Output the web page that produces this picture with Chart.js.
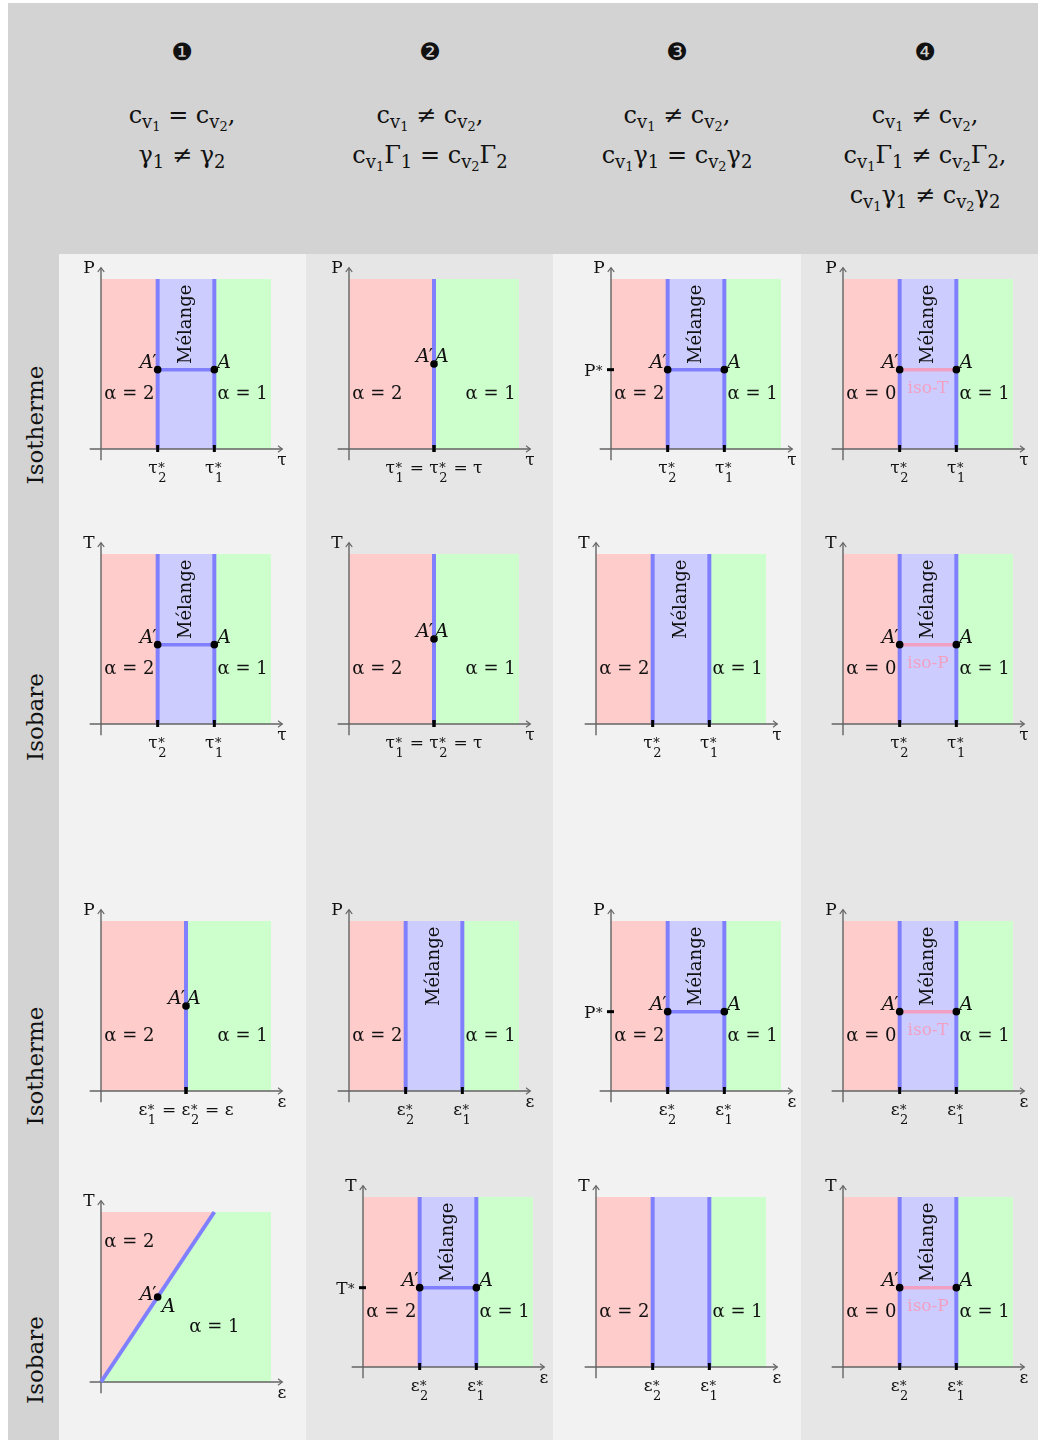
<!DOCTYPE html>
<html><head><meta charset="utf-8">
<script src="https://cdn.jsdelivr.net/npm/chart.js"></script>
<style>
html,body{margin:0;padding:0;background:#fff;}
body{width:1038px;height:1440px;position:relative;overflow:hidden;font-family:"DejaVu Serif",serif;color:#111;}
.bg{position:absolute;}
.num{position:absolute;font-family:"DejaVu Sans",sans-serif;font-size:24px;transform:translate(-50%,-50%);line-height:1;}
.cond{position:absolute;transform:translateX(-50%);white-space:nowrap;font-size:24px;line-height:40px;text-align:center;}
.rowlab{position:absolute;font-size:23px;transform:translate(-50%,-50%) rotate(-90deg);white-space:nowrap;line-height:1;}
sub{font-size:0.75em;vertical-align:-0.3em;line-height:0;}
sub sub{font-size:0.72em;vertical-align:-0.22em;}
canvas{position:absolute;}
</style></head>
<body>
<script>
// ---------- DATA ----------
const columnNumbers = ['❶','❷','❸','❹'];
const columnConditions = [
  ['c{v1} = c{v2},', 'γ1 ≠ γ2'],
  ['c{v1} ≠ c{v2},', 'c{v1}Γ1 = c{v2}Γ2'],
  ['c{v1} ≠ c{v2},', 'c{v1}γ1 = c{v2}γ2'],
  ['c{v1} ≠ c{v2},', 'c{v1}Γ1 ≠ c{v2}Γ2,', 'c{v1}γ1 ≠ c{v2}γ2']
];
const rowLabels = ['Isotherme','Isobare','Isotherme','Isobare'];
const xVariable = ['τ','τ','ε','ε'];
const yVariable = ['P','T','P','T'];
// abscissae of the phase boundaries: x2* (left) and x1* (right), per [row][col]
const xStar2 = [[1,1.5,1,1],[1,1.5,1,1],[1.5,1,1,1],[null,1,1,1]];
const xStar1 = [[2,1.5,2,2],[2,1.5,2,2],[1.5,2,2,2],[null,2,2,2]];
// ordinate of the points A' and A (null: no points)
const pointY = [[1.4,1.5,1.4,1.4],[1.4,1.5,null,1.4],[1.5,null,1.4,1.4],[1.5,1.4,null,1.4]];
const alphaLeft = [[2,2,2,0],[2,2,2,0],[2,2,2,0],[2,2,2,0]];
const alphaRight = 1;
const yStarName = [[null,null,'P',null],[null,null,null,null],[null,null,'P',null],[null,'T',null,null]];
const showMelange = [[1,0,1,1],[1,0,1,1],[0,1,1,1],[0,1,0,1]];
const isoLabel = [[null,null,null,'iso-T'],[null,null,null,'iso-P'],[null,null,null,'iso-T'],[null,null,null,'iso-P']];
// row 4, col 1: diagonal boundary from origin to top, point on it
const diagonalEnd = [2, 3];
const diagonalPoint = [1, 1.5];
const plotMax = 3;
const axisMin = -0.2, axisMax = 3.2;

// ---------- LAYOUT / STYLE ----------
const colCenters = [182, 430, 677, 925];
const rowLabelCenters = [425, 717, 1066, 1360];
const origins = [
  [[101,449],[349,449],[611,449],[843,449]],
  [[101,724],[349,724],[596,724],[843,724]],
  [[101,1091],[349,1091],[611,1091],[843,1091]],
  [[101,1382],[363,1367],[596,1367],[843,1367]]
];
const PXU = 170/3;
const PAD = {left:60, right:200, top:215, bottom:45};
const RED='#ffcccc', BLUE='#ccccff', GREEN='#ccffcc', LINE='#8080ff', PINK='#f2a0c2', AXIS='#636363', TXT='#111';
const BIG='17px "DejaVu Serif"', SMALL='13px "DejaVu Serif"', ALPHA='18px "DejaVu Serif"';
const ALAB='italic 19px "DejaVu Serif"', PRIME='19px "DejaVu Serif"';

// ---------- BACKGROUND / HTML TEXT ----------
function addDiv(cls, css, html){ const d=document.createElement('div'); d.className=cls; Object.assign(d.style, css); if(html!==undefined) d.innerHTML=html; document.body.appendChild(d); return d; }
addDiv('bg',{left:'8px',top:'3px',width:'1030px',height:'251px',background:'#d3d3d3'});
addDiv('bg',{left:'8px',top:'254px',width:'51px',height:'1186px',background:'#d3d3d3'});
[[59,247,'#f2f2f2'],[306,247,'#e6e6e6'],[553,248,'#f2f2f2'],[801,237,'#e6e6e6']].forEach(([l,w,c])=>
  addDiv('bg',{left:l+'px',top:'254px',width:w+'px',height:'1186px',background:c}));
function fmtCond(s){ return s.replace(/c\{v(\d)\}/g,'c<sub>v<sub>$1</sub></sub>').replace(/([γΓ])(\d)/g,'$1<sub>$2</sub>'); }
columnNumbers.forEach((n,c)=>{
  addDiv('num',{left:colCenters[c]+'px',top:'52px'},n);
  addDiv('cond',{left:colCenters[c]+'px',top:'95px'},columnConditions[c].map(l=>'<div>'+fmtCond(l)+'</div>').join(''));
});
rowLabels.forEach((t,r)=>addDiv('rowlab',{left:'35px',top:rowLabelCenters[r]+'px'},t));

// ---------- DRAW HELPERS ----------
function drawMath(ctx, toks, x, y, align){
  const ws = toks.map(t=>{ ctx.font=BIG; const wb=ctx.measureText(t.b).width; ctx.font=SMALL;
    const wsub = Math.max(t.sub?ctx.measureText(t.sub).width:0, t.sup?ctx.measureText(t.sup).width:0);
    return {wb, wsub: wsub?wsub+1:0}; });
  const total = ws.reduce((a,w)=>a+w.wb+w.wsub,0);
  let cx = align==='center'? x-total/2 : (align==='right'? x-total : x);
  ctx.textAlign='left'; ctx.textBaseline='alphabetic';
  toks.forEach((t,i)=>{
    ctx.font=BIG; ctx.fillText(t.b,cx,y); cx+=ws[i].wb;
    ctx.font=SMALL;
    if(t.sup) ctx.fillText(t.sup,cx+0.5,y-1);
    if(t.sub) ctx.fillText(t.sub,cx+0.5,y+(t.sup?9:5));
    cx+=ws[i].wsub;
  });
}
// "A′" right-aligned at x (italic A + upright prime)
function drawAPrime(ctx, x, y){
  ctx.textAlign='left';
  ctx.font=PRIME; const wp=ctx.measureText('′').width;
  ctx.font=ALAB; const wa=ctx.measureText('A').width;
  const x0=x-wa-wp+1;
  ctx.fillText('A',x0,y);
  ctx.font=PRIME; ctx.fillText('′',x0+wa-1,y);
}
function drawA(ctx, x, y){ ctx.textAlign='left'; ctx.font=ALAB; ctx.fillText('A',x,y); }

function drawExtras(chart, r, c){
  const ctx=chart.ctx, X=v=>chart.scales.x.getPixelForValue(v), Y=v=>chart.scales.y.getPixelForValue(v);
  const x2=xStar2[r][c], x1=xStar1[r][c], py=pointY[r][c], diag=(x2===null);
  const xv=xVariable[r], yv=yVariable[r];
  ctx.save();
  // arrow heads
  ctx.strokeStyle=AXIS; ctx.lineWidth=1.1; ctx.lineCap='round';
  const tx=X(axisMax), ty=Y(0);
  ctx.beginPath(); ctx.moveTo(tx-4,ty-3); ctx.lineTo(tx,ty); ctx.lineTo(tx-4,ty+3); ctx.stroke();
  const ux=X(0), uy=Y(axisMax);
  ctx.beginPath(); ctx.moveTo(ux-3,uy+4); ctx.lineTo(ux,uy); ctx.lineTo(ux+3,uy+4); ctx.stroke();
  // tick marks
  ctx.fillStyle='#000';
  if(!diag){ [x2,x1].forEach(v=>ctx.fillRect(X(v)-1.5,Y(0)-4,3,7)); }
  if(yStarName[r][c]) ctx.fillRect(X(0)-4,Y(py)-1.5,7,3);
  // texts
  ctx.fillStyle=TXT;
  ctx.font=BIG; ctx.textAlign='center'; ctx.textBaseline='alphabetic';
  ctx.fillText(yv, X(0)-12, Y(axisMax)+5.5);
  ctx.fillText(xv, X(axisMax)-0.5, Y(0)+16);
  ctx.font=ALPHA;
  if(diag){
    ctx.fillText('α = '+alphaLeft[r][c], X(0.5), Y(2.5)+7);
    ctx.fillText('α = '+alphaRight, X(2), Y(1)+7);
    const [dx,dy]=diagonalPoint;
    drawAPrime(ctx, X(dx)-1, Y(dy)+3);
    drawA(ctx, X(dx)+4, Y(dy)+15);
  } else {
    ctx.fillText('α = '+alphaLeft[r][c], X(0.5), Y(1)+7);
    ctx.fillText('α = '+alphaRight, X(2.5), Y(1)+7);
    const mid=(x2+x1)/2;
    if(showMelange[r][c]){
      ctx.save(); ctx.translate(X(mid), Y(2.2)); ctx.rotate(-Math.PI/2);
      ctx.font='18px "DejaVu Serif"'; ctx.textAlign='center'; ctx.textBaseline='middle';
      ctx.fillText('Mélange',0,0); ctx.restore();
    }
    if(py!==null){
      drawAPrime(ctx, X(x2)-1, Y(py)-2);
      drawA(ctx, X(x1)+(x1>x2?3:1), Y(py)-2);
    }
    if(isoLabel[r][c]){
      ctx.fillStyle=PINK; ctx.font=BIG; ctx.textAlign='center';
      ctx.fillText(isoLabel[r][c], X(mid), Y(py)+23); ctx.fillStyle=TXT;
    }
    if(x1>x2){
      drawMath(ctx,[{b:xv,sub:'2',sup:'*'}],X(x2),Y(0)+24,'center');
      drawMath(ctx,[{b:xv,sub:'1',sup:'*'}],X(x1),Y(0)+24,'center');
    } else {
      drawMath(ctx,[{b:xv,sub:'1',sup:'*'},{b:' = '},{b:xv,sub:'2',sup:'*'},{b:' = '+xv}],X(x2),Y(0)+24,'center');
    }
    if(yStarName[r][c]){
      const t=yStarName[r][c];
      ctx.font=BIG; const w=ctx.measureText(t).width; ctx.font=SMALL; const w2=ctx.measureText('*').width;
      drawMath(ctx,[{b:t,sup:'*'}],X(0)-8-(w+w2+1),Y(py)+6,'left');
    }
  }
  ctx.restore();
}

function region(a,b,color){ return {data:[{x:a,y:plotMax},{x:b,y:plotMax}],fill:'origin',backgroundColor:color,borderWidth:0,pointRadius:0,order:10}; }
function seg(pts,color,w,order){ return {data:pts,borderColor:color,borderWidth:w,pointRadius:0,fill:false,order:order}; }

function makePanel(r,c){
  const [ox,oy]=origins[r][c];
  const cv=document.createElement('canvas');
  const W=PAD.left+PAD.right, H=PAD.top+PAD.bottom;
  cv.width=W; cv.height=H; cv.style.width=W+'px'; cv.style.height=H+'px';
  cv.style.left=(ox-PAD.left)+'px'; cv.style.top=(oy-PAD.top)+'px';
  document.body.appendChild(cv);
  const x2=xStar2[r][c], x1=xStar1[r][c], py=pointY[r][c];
  const ds=[];
  if(x2===null){
    ds.push(region(0,plotMax,GREEN));
    ds.push({data:[{x:0,y:0},{x:diagonalEnd[0],y:diagonalEnd[1]}],fill:{value:plotMax},backgroundColor:RED,borderWidth:0,pointRadius:0,order:9});
    ds.push(seg([{x:0,y:0},{x:diagonalEnd[0],y:diagonalEnd[1]}],LINE,4,6));
    ds.push({data:[{x:diagonalPoint[0],y:diagonalPoint[1]}],showLine:false,pointRadius:3.8,pointBackgroundColor:'#000',pointBorderWidth:0,order:1});
  } else {
    ds.push(region(0,x2,RED));
    if(x1>x2) ds.push(region(x2,x1,BLUE));
    ds.push(region(x1,plotMax,GREEN));
    [...new Set([x2,x1])].forEach(v=>ds.push(seg([{x:v,y:0},{x:v,y:plotMax}],LINE,4,6)));
    if(py!==null){
      if(x1>x2) ds.push(seg([{x:x2,y:py},{x:x1,y:py}],isoLabel[r][c]?PINK:LINE,3.5,5));
      ds.push({data:[...new Set([x2,x1])].map(v=>({x:v,y:py})),showLine:false,pointRadius:3.8,pointBackgroundColor:'#000',pointBorderWidth:0,order:1});
    }
  }
  ds.push(seg([{x:axisMin,y:0},{x:axisMax,y:0}],AXIS,1.4,8));
  ds.push(seg([{x:0,y:axisMin},{x:0,y:axisMax}],AXIS,1.4,8));
  new Chart(cv,{type:'line',data:{datasets:ds},
    options:{responsive:false,animation:false,events:[],layout:{padding:0,autoPadding:false},
      elements:{line:{tension:0}},
      plugins:{legend:{display:false},tooltip:{enabled:false}},
      scales:{x:{type:'linear',display:false,min:-PAD.left/PXU,max:PAD.right/PXU},
              y:{type:'linear',display:false,min:-PAD.bottom/PXU,max:PAD.top/PXU}}},
    plugins:[{id:'extras',afterDatasetsDraw(ch){drawExtras(ch,r,c);}}]});
}
for(let r=0;r<4;r++) for(let c=0;c<4;c++) makePanel(r,c);
</script>
</body></html>
